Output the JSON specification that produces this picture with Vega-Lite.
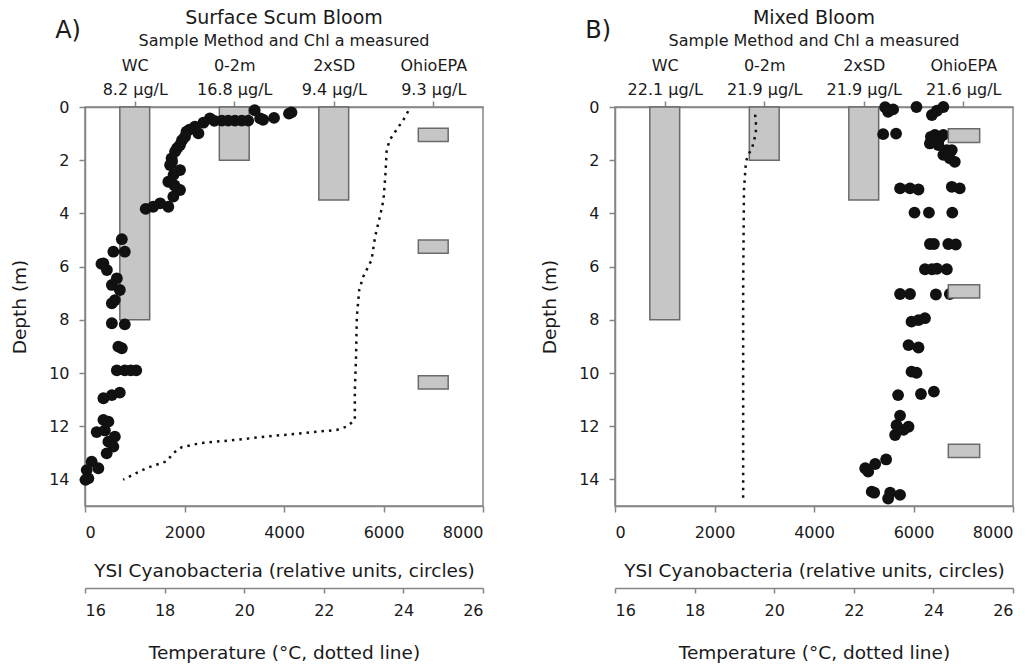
{
  "$schema": "https://vega.github.io/schema/vega-lite/v6.json",
  "autosize": {"type": "none"},
  "padding": {"left": 85, "top": 107, "right": 948, "bottom": 557},
  "background": "white",
  "spacing": 132,
  "bounds": "flush",
  "config": {
    "font": "DejaVu Sans",
    "view": {"stroke": "#858585", "strokeWidth": 1.5},
    "axis": {
      "grid": false,
      "domainColor": "#858585",
      "tickColor": "#858585",
      "domainWidth": 1.5,
      "tickWidth": 1.5,
      "tickSize": 6,
      "labelFont": "DejaVu Sans",
      "labelFontSize": 16,
      "labelColor": "#1a1a1a",
      "titleFont": "DejaVu Sans",
      "titleFontSize": 18.5,
      "titleFontWeight": "normal",
      "titleColor": "#1a1a1a"
    },
    "title": {
      "font": "DejaVu Sans",
      "fontSize": 19,
      "fontWeight": "normal",
      "color": "#1a1a1a",
      "subtitleFont": "DejaVu Sans",
      "subtitleFontSize": 16,
      "subtitleColor": "#1a1a1a",
      "subtitlePadding": 5,
      "offset": -30,
      "anchor": "middle"
    }
  },
  "datasets": {
    "a_bars": [
      {"method": "WC", "x1": 700, "x2": 1300, "d1": 0, "d2": 8},
      {"method": "0-2m", "x1": 2700, "x2": 3300, "d1": 0, "d2": 2},
      {"method": "2xSD", "x1": 4700, "x2": 5300, "d1": 0, "d2": 3.5}
    ],
    "a_ohio": [
      {"method": "OhioEPA", "x1": 6700, "x2": 7300, "d1": 0.8, "d2": 1.3},
      {"method": "OhioEPA", "x1": 6700, "x2": 7300, "d1": 5.0, "d2": 5.5},
      {"method": "OhioEPA", "x1": 6700, "x2": 7300, "d1": 10.1, "d2": 10.6}
    ],
    "a_pts": [
      {"cyano": 4150, "depth": 0.2}, {"cyano": 4100, "depth": 0.25}, {"cyano": 3800, "depth": 0.41},
      {"cyano": 3580, "depth": 0.48}, {"cyano": 3410, "depth": 0.12}, {"cyano": 3520, "depth": 0.43},
      {"cyano": 3280, "depth": 0.51}, {"cyano": 3150, "depth": 0.51}, {"cyano": 3015, "depth": 0.51},
      {"cyano": 2880, "depth": 0.51}, {"cyano": 2750, "depth": 0.51}, {"cyano": 2600, "depth": 0.52},
      {"cyano": 2510, "depth": 0.43}, {"cyano": 2380, "depth": 0.59}, {"cyano": 2210, "depth": 0.74},
      {"cyano": 2100, "depth": 0.85}, {"cyano": 2280, "depth": 0.99}, {"cyano": 2040, "depth": 0.93},
      {"cyano": 2010, "depth": 1.12}, {"cyano": 1950, "depth": 1.25}, {"cyano": 1910, "depth": 1.43},
      {"cyano": 1850, "depth": 1.55}, {"cyano": 1810, "depth": 1.68}, {"cyano": 1740, "depth": 1.93},
      {"cyano": 1750, "depth": 2.05}, {"cyano": 1710, "depth": 2.18}, {"cyano": 1910, "depth": 2.37},
      {"cyano": 1780, "depth": 2.55}, {"cyano": 1675, "depth": 2.81}, {"cyano": 1800, "depth": 2.95},
      {"cyano": 1910, "depth": 3.12}, {"cyano": 1775, "depth": 3.37}, {"cyano": 1675, "depth": 3.75},
      {"cyano": 1510, "depth": 3.62}, {"cyano": 1370, "depth": 3.75}, {"cyano": 1220, "depth": 3.83},
      {"cyano": 740, "depth": 4.97}, {"cyano": 570, "depth": 5.44}, {"cyano": 800, "depth": 5.44},
      {"cyano": 330, "depth": 5.9}, {"cyano": 370, "depth": 5.88}, {"cyano": 440, "depth": 6.13},
      {"cyano": 640, "depth": 6.44}, {"cyano": 540, "depth": 6.69}, {"cyano": 700, "depth": 6.88},
      {"cyano": 600, "depth": 7.26}, {"cyano": 540, "depth": 7.38}, {"cyano": 540, "depth": 8.13},
      {"cyano": 800, "depth": 8.17}, {"cyano": 670, "depth": 9.01}, {"cyano": 740, "depth": 9.07},
      {"cyano": 640, "depth": 9.9}, {"cyano": 800, "depth": 9.9}, {"cyano": 920, "depth": 9.9},
      {"cyano": 1030, "depth": 9.9}, {"cyano": 370, "depth": 10.95}, {"cyano": 540, "depth": 10.83},
      {"cyano": 700, "depth": 10.74}, {"cyano": 370, "depth": 11.76}, {"cyano": 470, "depth": 11.83},
      {"cyano": 235, "depth": 12.22}, {"cyano": 400, "depth": 12.16}, {"cyano": 600, "depth": 12.39},
      {"cyano": 470, "depth": 12.58}, {"cyano": 570, "depth": 12.77}, {"cyano": 436, "depth": 13.02},
      {"cyano": 134, "depth": 13.33}, {"cyano": 268, "depth": 13.58}, {"cyano": 34, "depth": 13.65},
      {"cyano": 67, "depth": 13.96}, {"cyano": 10, "depth": 14.02}
    ],
    "a_temp": [
      {"temp": 24.12, "depth": 0.16}, {"temp": 24.0, "depth": 0.48}, {"temp": 23.83, "depth": 0.85},
      {"temp": 23.66, "depth": 1.23}, {"temp": 23.58, "depth": 1.61}, {"temp": 23.55, "depth": 2.49},
      {"temp": 23.5, "depth": 3.49}, {"temp": 23.41, "depth": 4.12}, {"temp": 23.29, "depth": 4.87},
      {"temp": 23.2, "depth": 5.75}, {"temp": 22.99, "depth": 6.38}, {"temp": 22.89, "depth": 6.88},
      {"temp": 22.83, "depth": 7.89}, {"temp": 22.81, "depth": 9.4}, {"temp": 22.78, "depth": 10.65},
      {"temp": 22.78, "depth": 11.77}, {"temp": 22.57, "depth": 12.02}, {"temp": 22.32, "depth": 12.14},
      {"temp": 21.4, "depth": 12.27}, {"temp": 20.56, "depth": 12.39}, {"temp": 19.73, "depth": 12.52},
      {"temp": 18.89, "depth": 12.64}, {"temp": 18.43, "depth": 12.79}, {"temp": 18.22, "depth": 13.01},
      {"temp": 18.05, "depth": 13.32}, {"temp": 17.55, "depth": 13.57}, {"temp": 17.21, "depth": 13.82},
      {"temp": 16.96, "depth": 14.01}
    ],
    "b_bars": [
      {"method": "WC", "x1": 700, "x2": 1300, "d1": 0, "d2": 8},
      {"method": "0-2m", "x1": 2700, "x2": 3300, "d1": 0, "d2": 2},
      {"method": "2xSD", "x1": 4700, "x2": 5300, "d1": 0, "d2": 3.5}
    ],
    "b_ohio": [
      {"method": "OhioEPA", "x1": 6700, "x2": 7330, "d1": 0.82, "d2": 1.33},
      {"method": "OhioEPA", "x1": 6700, "x2": 7330, "d1": 6.68, "d2": 7.18},
      {"method": "OhioEPA", "x1": 6700, "x2": 7330, "d1": 12.68, "d2": 13.18}
    ],
    "b_pts": [
      {"cyano": 5430, "depth": 0.01}, {"cyano": 5590, "depth": 0.09}, {"cyano": 5490, "depth": 0.18},
      {"cyano": 6060, "depth": 0.0}, {"cyano": 6600, "depth": 0.0}, {"cyano": 6470, "depth": 0.14},
      {"cyano": 6370, "depth": 0.3}, {"cyano": 5390, "depth": 1.02}, {"cyano": 5650, "depth": 1.0},
      {"cyano": 6430, "depth": 1.05}, {"cyano": 6600, "depth": 1.05}, {"cyano": 6350, "depth": 1.12},
      {"cyano": 6520, "depth": 1.2}, {"cyano": 6330, "depth": 1.37}, {"cyano": 6500, "depth": 1.43},
      {"cyano": 6670, "depth": 1.62}, {"cyano": 6770, "depth": 1.62}, {"cyano": 6600, "depth": 1.8},
      {"cyano": 6730, "depth": 1.93}, {"cyano": 6830, "depth": 2.06},
      {"cyano": 5730, "depth": 3.06}, {"cyano": 5930, "depth": 3.06}, {"cyano": 6100, "depth": 3.1},
      {"cyano": 6770, "depth": 3.0}, {"cyano": 6930, "depth": 3.06},
      {"cyano": 6020, "depth": 3.97}, {"cyano": 6310, "depth": 3.97}, {"cyano": 6780, "depth": 3.97},
      {"cyano": 6330, "depth": 5.15}, {"cyano": 6410, "depth": 5.15}, {"cyano": 6700, "depth": 5.15},
      {"cyano": 6850, "depth": 5.17},
      {"cyano": 6230, "depth": 6.1}, {"cyano": 6370, "depth": 6.1}, {"cyano": 6470, "depth": 6.08},
      {"cyano": 6670, "depth": 6.1},
      {"cyano": 5730, "depth": 7.03}, {"cyano": 5930, "depth": 7.03}, {"cyano": 6450, "depth": 7.05},
      {"cyano": 6730, "depth": 7.03},
      {"cyano": 5960, "depth": 8.07}, {"cyano": 6100, "depth": 8.01}, {"cyano": 6230, "depth": 7.94},
      {"cyano": 5900, "depth": 8.95}, {"cyano": 6100, "depth": 9.04},
      {"cyano": 5960, "depth": 9.95}, {"cyano": 6060, "depth": 9.99},
      {"cyano": 5690, "depth": 10.83}, {"cyano": 6150, "depth": 10.79}, {"cyano": 6410, "depth": 10.7},
      {"cyano": 5730, "depth": 11.6}, {"cyano": 5660, "depth": 11.96}, {"cyano": 5900, "depth": 12.02},
      {"cyano": 5630, "depth": 12.33}, {"cyano": 5800, "depth": 12.14},
      {"cyano": 5450, "depth": 13.25}, {"cyano": 5230, "depth": 13.42}, {"cyano": 5030, "depth": 13.58},
      {"cyano": 5090, "depth": 13.71},
      {"cyano": 5160, "depth": 14.46}, {"cyano": 5210, "depth": 14.5}, {"cyano": 5530, "depth": 14.5},
      {"cyano": 5730, "depth": 14.58}, {"cyano": 5490, "depth": 14.72}
    ],
    "b_temp": [
      {"temp": 19.52, "depth": 0.29}, {"temp": 19.54, "depth": 0.6}, {"temp": 19.54, "depth": 0.98},
      {"temp": 19.45, "depth": 1.51}, {"temp": 19.35, "depth": 1.8}, {"temp": 19.29, "depth": 2.05},
      {"temp": 19.24, "depth": 3.12}, {"temp": 19.22, "depth": 6.88}, {"temp": 19.22, "depth": 10.65},
      {"temp": 19.22, "depth": 14.77}
    ]
  },
  "hconcat": [
    {
      "width": 398,
      "height": 399,
      "title": {"text": "Surface Scum Bloom", "subtitle": "Sample Method and Chl a measured"},
      "resolve": {"scale": {"x": "independent"}, "axis": {"x": "independent"}},
      "layer": [
        {
          "data": {"name": "a_bars"},
          "mark": {"type": "rect", "fill": "#c6c6c6", "stroke": "#6a6a6a", "strokeWidth": 1.5},
          "encoding": {
            "x": {"field": "x1", "type": "quantitative", "scale": {"domain": [0, 8000]},
              "axis": {"orient": "top", "values": [1000, 3000, 5000, 7000], "title": null,
                "labelExpr": "datum.value == 1000 ? '8.2 μg/L' : datum.value == 3000 ? '16.8 μg/L' : datum.value == 5000 ? '9.4 μg/L' : '9.3 μg/L'",
                "labelPadding": 4}},
            "x2": {"field": "x2"},
            "y": {"field": "d1", "type": "quantitative", "scale": {"domain": [0, 15], "reverse": true},
              "axis": {"values": [0, 2, 4, 6, 8, 10, 12, 14], "title": "Depth (m)", "labelPadding": 10, "titlePadding": 19}},
            "y2": {"field": "d2"}
          }
        },
        {
          "data": {"name": "a_pts"},
          "mark": {"type": "point", "shape": "circle", "filled": true, "color": "#111111", "opacity": 1, "size": 140},
          "encoding": {
            "x": {"field": "cyano", "type": "quantitative", "scale": {"domain": [0, 8000]},
              "axis": {"orient": "bottom", "values": [0, 2000, 4000, 6000, 8000], "format": "d", "title": "YSI Cyanobacteria (relative units, circles)", "labelPadding": 12, "titlePadding": 21}},
            "y": {"field": "depth", "type": "quantitative", "scale": {"domain": [0, 15], "reverse": true},
              "axis": {"values": [0, 2, 4, 6, 8, 10, 12, 14], "title": "Depth (m)", "labelPadding": 10, "titlePadding": 19}}
          }
        },
        {
          "data": {"name": "a_ohio"},
          "mark": {"type": "rect", "fill": "#c6c6c6", "stroke": "#6a6a6a", "strokeWidth": 1.5},
          "encoding": {
            "x": {"field": "x1", "type": "quantitative", "scale": {"domain": [0, 8000]},
              "axis": {"orient": "top", "offset": 24, "values": [1000, 3000, 5000, 7000], "title": null, "domain": false, "ticks": false, "tickSize": 0,
                "labelExpr": "datum.value == 1000 ? 'WC' : datum.value == 3000 ? '0-2m' : datum.value == 5000 ? '2xSD' : 'OhioEPA'",
                "labelPadding": 10}},
            "x2": {"field": "x2"},
            "y": {"field": "d1", "type": "quantitative", "scale": {"domain": [0, 15], "reverse": true},
              "axis": {"values": [0, 2, 4, 6, 8, 10, 12, 14], "title": "Depth (m)", "labelPadding": 10, "titlePadding": 19}},
            "y2": {"field": "d2"}
          }
        },
        {
          "data": {"name": "a_temp"},
          "mark": {"type": "line", "color": "#111111", "strokeWidth": 2.5, "strokeDash": [2.5, 5], "strokeCap": "butt"},
          "encoding": {
            "x": {"field": "temp", "type": "quantitative", "scale": {"domain": [16, 26]},
              "axis": {"orient": "bottom", "offset": 82, "values": [16, 18, 20, 22, 24, 26], "tickSize": 5, "labelPadding": 9, "titlePadding": 25, "title": "Temperature (°C, dotted line)"}},
            "y": {"field": "depth", "type": "quantitative", "scale": {"domain": [0, 15], "reverse": true},
              "axis": {"values": [0, 2, 4, 6, 8, 10, 12, 14], "title": "Depth (m)", "labelPadding": 10, "titlePadding": 19}},
            "order": {"field": "depth", "type": "quantitative"}
          }
        },
        {
          "data": {"values": [{"label": "A)"}]},
          "mark": {"type": "text", "fontSize": 24, "font": "DejaVu Sans", "color": "#1a1a1a", "align": "center", "baseline": "middle"},
          "encoding": {
            "text": {"field": "label"},
            "x": {"datum": -340, "type": "quantitative", "scale": {"domain": [0, 8000]}, "axis": null},
            "y": {"datum": -2.86, "type": "quantitative", "scale": {"domain": [0, 15], "reverse": true},
              "axis": {"values": [0, 2, 4, 6, 8, 10, 12, 14], "title": "Depth (m)", "labelPadding": 10, "titlePadding": 19}}
          }
        }
      ]
    },
    {
      "width": 398,
      "height": 399,
      "title": {"text": "Mixed Bloom", "subtitle": "Sample Method and Chl a measured"},
      "resolve": {"scale": {"x": "independent"}, "axis": {"x": "independent"}},
      "layer": [
        {
          "data": {"name": "b_bars"},
          "mark": {"type": "rect", "fill": "#c6c6c6", "stroke": "#6a6a6a", "strokeWidth": 1.5},
          "encoding": {
            "x": {"field": "x1", "type": "quantitative", "scale": {"domain": [0, 8000]},
              "axis": {"orient": "top", "values": [1000, 3000, 5000, 7000], "title": null,
                "labelExpr": "datum.value == 1000 ? '22.1 μg/L' : datum.value == 3000 ? '21.9 μg/L' : datum.value == 5000 ? '21.9 μg/L' : '21.6 μg/L'",
                "labelPadding": 4}},
            "x2": {"field": "x2"},
            "y": {"field": "d1", "type": "quantitative", "scale": {"domain": [0, 15], "reverse": true},
              "axis": {"values": [0, 2, 4, 6, 8, 10, 12, 14], "title": "Depth (m)", "labelPadding": 10, "titlePadding": 19}},
            "y2": {"field": "d2"}
          }
        },
        {
          "data": {"name": "b_pts"},
          "mark": {"type": "point", "shape": "circle", "filled": true, "color": "#111111", "opacity": 1, "size": 140},
          "encoding": {
            "x": {"field": "cyano", "type": "quantitative", "scale": {"domain": [0, 8000]},
              "axis": {"orient": "bottom", "values": [0, 2000, 4000, 6000, 8000], "format": "d", "title": "YSI Cyanobacteria (relative units, circles)", "labelPadding": 12, "titlePadding": 21}},
            "y": {"field": "depth", "type": "quantitative", "scale": {"domain": [0, 15], "reverse": true},
              "axis": {"values": [0, 2, 4, 6, 8, 10, 12, 14], "title": "Depth (m)", "labelPadding": 10, "titlePadding": 19}}
          }
        },
        {
          "data": {"name": "b_ohio"},
          "mark": {"type": "rect", "fill": "#c6c6c6", "stroke": "#6a6a6a", "strokeWidth": 1.5},
          "encoding": {
            "x": {"field": "x1", "type": "quantitative", "scale": {"domain": [0, 8000]},
              "axis": {"orient": "top", "offset": 24, "values": [1000, 3000, 5000, 7000], "title": null, "domain": false, "ticks": false, "tickSize": 0,
                "labelExpr": "datum.value == 1000 ? 'WC' : datum.value == 3000 ? '0-2m' : datum.value == 5000 ? '2xSD' : 'OhioEPA'",
                "labelPadding": 10}},
            "x2": {"field": "x2"},
            "y": {"field": "d1", "type": "quantitative", "scale": {"domain": [0, 15], "reverse": true},
              "axis": {"values": [0, 2, 4, 6, 8, 10, 12, 14], "title": "Depth (m)", "labelPadding": 10, "titlePadding": 19}},
            "y2": {"field": "d2"}
          }
        },
        {
          "data": {"name": "b_temp"},
          "mark": {"type": "line", "color": "#111111", "strokeWidth": 2.5, "strokeDash": [2.5, 5], "strokeCap": "butt"},
          "encoding": {
            "x": {"field": "temp", "type": "quantitative", "scale": {"domain": [16, 26]},
              "axis": {"orient": "bottom", "offset": 82, "values": [16, 18, 20, 22, 24, 26], "tickSize": 5, "labelPadding": 9, "titlePadding": 25, "title": "Temperature (°C, dotted line)"}},
            "y": {"field": "depth", "type": "quantitative", "scale": {"domain": [0, 15], "reverse": true},
              "axis": {"values": [0, 2, 4, 6, 8, 10, 12, 14], "title": "Depth (m)", "labelPadding": 10, "titlePadding": 19}},
            "order": {"field": "depth", "type": "quantitative"}
          }
        },
        {
          "data": {"values": [{"label": "B)"}]},
          "mark": {"type": "text", "fontSize": 24, "font": "DejaVu Sans", "color": "#1a1a1a", "align": "center", "baseline": "middle"},
          "encoding": {
            "text": {"field": "label"},
            "x": {"datum": -340, "type": "quantitative", "scale": {"domain": [0, 8000]}, "axis": null},
            "y": {"datum": -2.86, "type": "quantitative", "scale": {"domain": [0, 15], "reverse": true},
              "axis": {"values": [0, 2, 4, 6, 8, 10, 12, 14], "title": "Depth (m)", "labelPadding": 10, "titlePadding": 19}}
          }
        }
      ]
    }
  ]
}
